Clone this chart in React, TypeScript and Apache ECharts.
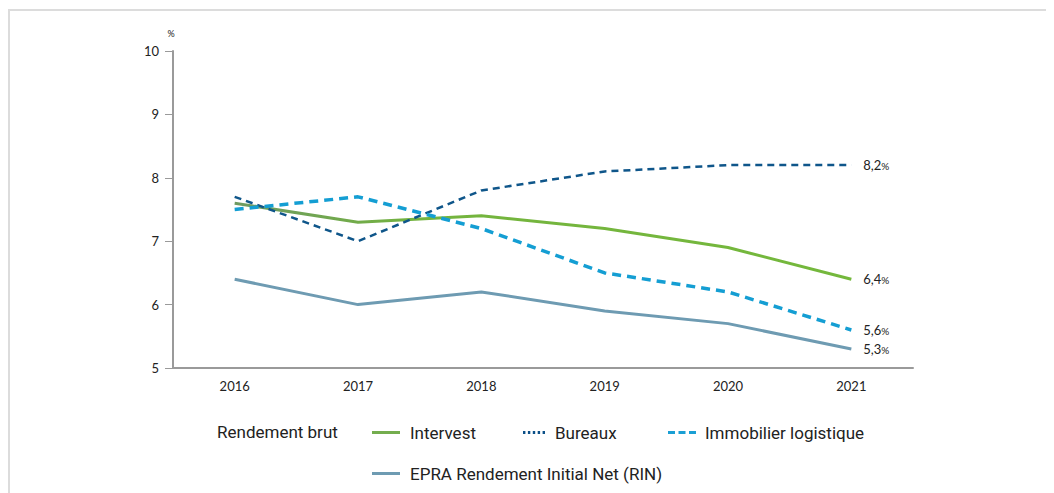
import React, { useEffect, useRef } from "react";
import * as echarts from "echarts";

const years = ["2016", "2017", "2018", "2019", "2020", "2021"];
const intervest = [7.6, 7.3, 7.4, 7.2, 6.9, 6.4];
const bureaux = [7.7, 7.0, 7.8, 8.1, 8.2, 8.2];
const logistique = [7.5, 7.7, 7.2, 6.5, 6.2, 5.6];
const epra = [6.4, 6.0, 6.2, 5.9, 5.7, 5.3];
const seriesNames = ["Intervest", "Bureaux", "Immobilier logistique", "EPRA Rendement Initial Net (RIN)"];
const legendTitle = "Rendement brut";
const yTicks = { min: 5, max: 10, interval: 1 };

const tickFont = "Lato, 'Open Sans', sans-serif";
const legendFont = "Roboto, 'Noto Sans', sans-serif";

export default function App() {
  const ref = useRef<HTMLDivElement>(null);
  useEffect(() => {
    if (!ref.current) return;
    const chart = echarts.init(ref.current, undefined, { renderer: "svg" });
    const endLabel = () => ({
      show: true,
      distance: 12,
      formatter: (p: any) => `{v|${String(p.value).replace(".", ",")}}{p|%}`,
      rich: {
        v: { fontSize: 13, color: "#222", fontFamily: tickFont },
        p: { fontSize: 10, color: "#222", fontFamily: tickFont, padding: [2, 0, 0, 0] },
      },
    });
    const mkLegend = (
      name: string,
      left: number,
      top: number,
      icon: string,
      color: string,
      itemWidth = 28,
      itemGap = 10
    ) => ({
      data: [{ name, icon, itemStyle: { color } }],
      left,
      top,
      padding: 0,
      itemWidth,
      itemHeight: 3,
      itemGap,
      selectedMode: false,
      textStyle: { fontSize: 17, color: "#222", fontFamily: legendFont, fontWeight: "normal", padding: [0, 0, 0, itemGap - 5] },
    });
    chart.setOption({
      animation: false,
      backgroundColor: "#fff",
      grid: { left: 165, right: 141, top: 43, bottom: 125 },
      graphic: [
        {
          type: "polyline",
          shape: { points: [[1, 485], [1, 2], [1046, 2]] },
          style: { stroke: "#dcdcdc", lineWidth: 2, fill: null },
          silent: true,
        },
        {
          type: "text",
          x: 209,
          y: 424,
          style: {
            text: legendTitle,
            fontSize: 17,
            fill: "#222",
            fontFamily: legendFont,
            verticalAlign: "middle",
          },
        },
      ],
      legend: [
        mkLegend(seriesNames[0], 364, 416, "rect", "#74ad4e"),
        mkLegend(
          seriesNames[1],
          515,
          416,
          "path://M0,0h2.4v3h-2.4z M4.9,0h2.4v3h-2.4z M9.8,0h2.4v3h-2.4z M14.7,0h2.4v3h-2.4z M19.6,0h2.4v3h-2.4z",
          "#0c5088",
          22
        ),
        mkLegend(
          seriesNames[2],
          660,
          416,
          "path://M0,0h7v3h-7z M10.5,0h7v3h-7z M21,0h7v3h-7z",
          "#1a9fd4",
          28,
          9
        ),
        mkLegend(seriesNames[3], 364, 457, "rect", "#6e9bb2"),
      ],
      xAxis: {
        type: "category",
        data: years,
        boundaryGap: true,
        axisLine: { lineStyle: { color: "#9a9a9a", width: 2 } },
        axisTick: { alignWithLabel: true, inside: true, length: 4, lineStyle: { color: "#bbb" } },
        axisLabel: { fontSize: 13, color: "#222", fontFamily: tickFont, margin: 11 },
      },
      yAxis: {
        type: "value",
        min: yTicks.min,
        max: yTicks.max,
        interval: yTicks.interval,
        name: "%",
        nameGap: 13,
        nameTextStyle: { fontSize: 9, color: "#222", fontFamily: tickFont, align: "center", padding: [0, 4, 0, 0] },
        axisLine: { show: true, lineStyle: { color: "#9a9a9a", width: 2 } },
        axisTick: { show: true, length: 8, lineStyle: { color: "#9a9a9a" } },
        axisLabel: { fontSize: 13, color: "#222", fontFamily: tickFont, margin: 14 },
        splitLine: { show: false },
      },
      series: [
        {
          name: seriesNames[0],
          type: "line",
          data: intervest,
          symbol: "none",
          color: "#74ad4e",
          lineStyle: {
            width: 3,
            color: new echarts.graphic.LinearGradient(0, 0, 1, 0, [
              { offset: 0, color: "#6e9a62" },
              { offset: 0.3, color: "#74b43e" },
              { offset: 1, color: "#74b83c" },
            ]),
          },
          endLabel: endLabel(),
          z: 3,
        },
        {
          name: seriesNames[1],
          type: "line",
          data: bureaux,
          symbol: "none",
          color: "#0c5088",
          lineStyle: { width: 2.5, color: "#0f568a", type: [7, 5] },
          endLabel: endLabel(),
          z: 4,
        },
        {
          name: seriesNames[2],
          type: "line",
          data: logistique,
          symbol: "none",
          color: "#1a9fd4",
          lineStyle: { width: 3.5, color: "#149ed3", type: [9, 6] },
          endLabel: endLabel(),
          z: 5,
        },
        {
          name: seriesNames[3],
          type: "line",
          data: epra,
          symbol: "none",
          color: "#6e9bb2",
          lineStyle: { width: 3, color: "#6e9bb2" },
          endLabel: endLabel(),
          z: 2,
        },
      ],
    });
    return () => chart.dispose();
  }, []);
  return <div ref={ref} style={{ width: 1046, height: 485 }} />;
}
